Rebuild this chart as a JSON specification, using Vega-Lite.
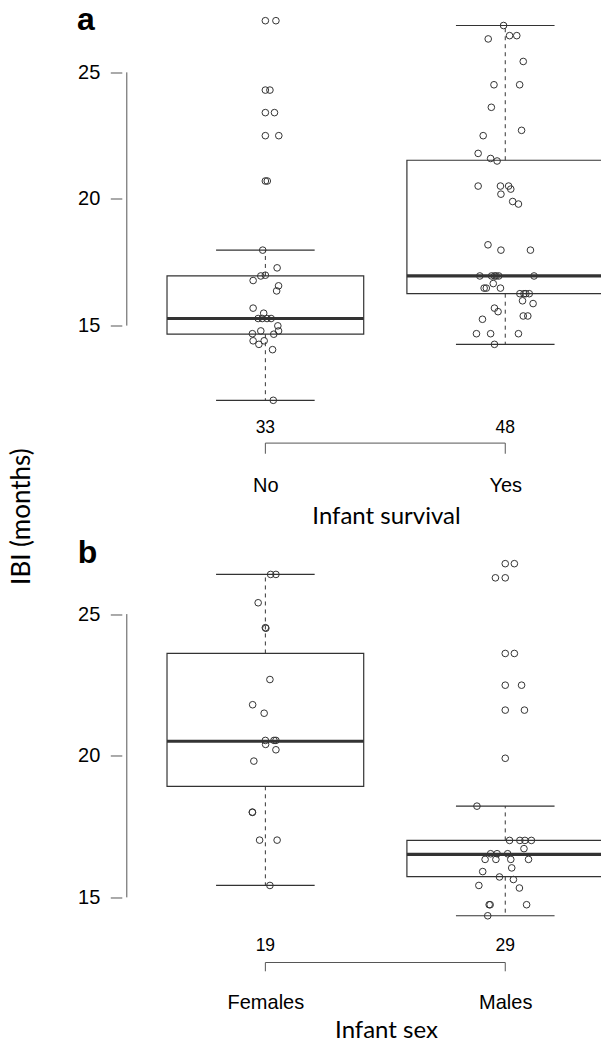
{
  "$schema": "https://vega.github.io/schema/vega-lite/v6.json",
  "padding": {"left": 7.8, "top": 3.5, "right": 0, "bottom": 0},
  "background": "white",
  "bounds": "flush",
  "spacing": 134,
  "config": {
    "view": {"stroke": null},
    "font": "Liberation Sans",
    "axis": {"grid": false, "labelColor": "black", "titleColor": "black", "titleFontWeight": "normal"}
  },
  "datasets": {
    "points_a": [
      {"group":"No","jx":1.000,"ibi":27.04},{"group":"No","jx":1.044,"ibi":27.04},{"group":"No","jx":1.000,"ibi":24.30},{"group":"No","jx":1.019,"ibi":24.30},
      {"group":"No","jx":1.000,"ibi":23.41},{"group":"No","jx":1.038,"ibi":23.41},{"group":"No","jx":1.000,"ibi":22.50},{"group":"No","jx":1.056,"ibi":22.50},
      {"group":"No","jx":1.000,"ibi":20.71},{"group":"No","jx":1.008,"ibi":20.71},{"group":"No","jx":0.989,"ibi":17.98},{"group":"No","jx":1.049,"ibi":17.28},
      {"group":"No","jx":0.981,"ibi":16.96},{"group":"No","jx":1.000,"ibi":16.99},{"group":"No","jx":0.949,"ibi":16.78},{"group":"No","jx":1.055,"ibi":16.57},
      {"group":"No","jx":1.047,"ibi":16.37},{"group":"No","jx":0.949,"ibi":15.69},{"group":"No","jx":0.993,"ibi":15.49},{"group":"No","jx":0.970,"ibi":15.28},
      {"group":"No","jx":0.987,"ibi":15.28},{"group":"No","jx":1.007,"ibi":15.28},{"group":"No","jx":1.024,"ibi":15.28},{"group":"No","jx":1.052,"ibi":14.99},
      {"group":"No","jx":0.981,"ibi":14.79},{"group":"No","jx":1.055,"ibi":14.79},{"group":"No","jx":0.946,"ibi":14.68},{"group":"No","jx":1.035,"ibi":14.66},
      {"group":"No","jx":0.949,"ibi":14.40},{"group":"No","jx":0.995,"ibi":14.40},{"group":"No","jx":0.973,"ibi":14.26},{"group":"No","jx":1.030,"ibi":14.05},
      {"group":"No","jx":1.033,"ibi":12.05},
      {"group":"Yes","jx":1.993,"ibi":26.85},{"group":"Yes","jx":1.929,"ibi":26.32},{"group":"Yes","jx":2.018,"ibi":26.45},{"group":"Yes","jx":2.048,"ibi":26.45},
      {"group":"Yes","jx":2.075,"ibi":25.43},{"group":"Yes","jx":1.953,"ibi":24.51},{"group":"Yes","jx":2.060,"ibi":24.51},{"group":"Yes","jx":1.942,"ibi":23.62},
      {"group":"Yes","jx":2.068,"ibi":22.71},{"group":"Yes","jx":1.908,"ibi":22.50},{"group":"Yes","jx":1.887,"ibi":21.80},{"group":"Yes","jx":1.939,"ibi":21.60},
      {"group":"Yes","jx":1.966,"ibi":21.50},{"group":"Yes","jx":1.887,"ibi":20.51},{"group":"Yes","jx":1.980,"ibi":20.51},{"group":"Yes","jx":2.014,"ibi":20.51},
      {"group":"Yes","jx":2.023,"ibi":20.39},{"group":"Yes","jx":1.982,"ibi":20.19},{"group":"Yes","jx":2.031,"ibi":19.90},{"group":"Yes","jx":2.055,"ibi":19.80},
      {"group":"Yes","jx":1.928,"ibi":18.19},{"group":"Yes","jx":1.982,"ibi":17.98},{"group":"Yes","jx":2.105,"ibi":17.98},{"group":"Yes","jx":1.894,"ibi":16.96},
      {"group":"Yes","jx":1.943,"ibi":16.96},{"group":"Yes","jx":1.955,"ibi":16.96},{"group":"Yes","jx":1.962,"ibi":16.96},{"group":"Yes","jx":1.973,"ibi":16.96},
      {"group":"Yes","jx":2.120,"ibi":16.96},{"group":"Yes","jx":1.950,"ibi":16.66},{"group":"Yes","jx":1.912,"ibi":16.48},{"group":"Yes","jx":1.921,"ibi":16.48},
      {"group":"Yes","jx":1.980,"ibi":16.48},{"group":"Yes","jx":2.061,"ibi":16.26},{"group":"Yes","jx":2.078,"ibi":16.26},{"group":"Yes","jx":2.086,"ibi":16.26},
      {"group":"Yes","jx":2.100,"ibi":16.26},{"group":"Yes","jx":2.072,"ibi":15.98},{"group":"Yes","jx":2.116,"ibi":15.87},{"group":"Yes","jx":1.955,"ibi":15.69},
      {"group":"Yes","jx":1.970,"ibi":15.55},{"group":"Yes","jx":1.905,"ibi":15.25},{"group":"Yes","jx":2.075,"ibi":15.38},{"group":"Yes","jx":2.094,"ibi":15.38},
      {"group":"Yes","jx":1.880,"ibi":14.68},{"group":"Yes","jx":1.939,"ibi":14.68},{"group":"Yes","jx":2.055,"ibi":14.68},{"group":"Yes","jx":1.955,"ibi":14.26}
    ],
    "box_a": [
      {"group":"No","pos":1,"lo":12.05,"q1":14.66,"median":15.28,"q3":16.96,"hi":17.98,"n":"33"},
      {"group":"Yes","pos":2,"lo":14.26,"q1":16.26,"median":16.96,"q3":21.53,"hi":26.85,"n":"48"}
    ],
    "points_b": [
      {"group":"Females","jx":1.022,"ibi":26.40},{"group":"Females","jx":1.044,"ibi":26.40},{"group":"Females","jx":0.970,"ibi":25.40},{"group":"Females","jx":1.000,"ibi":24.52},
      {"group":"Females","jx":1.002,"ibi":24.50},{"group":"Females","jx":1.019,"ibi":22.69},{"group":"Females","jx":0.947,"ibi":21.80},{"group":"Females","jx":0.995,"ibi":21.50},
      {"group":"Females","jx":1.000,"ibi":20.54},{"group":"Females","jx":1.036,"ibi":20.54},{"group":"Females","jx":1.044,"ibi":20.54},{"group":"Females","jx":1.001,"ibi":20.40},
      {"group":"Females","jx":1.044,"ibi":20.21},{"group":"Females","jx":0.952,"ibi":19.81},{"group":"Females","jx":0.946,"ibi":18.01},{"group":"Females","jx":0.946,"ibi":18.00},
      {"group":"Females","jx":0.976,"ibi":17.02},{"group":"Females","jx":1.049,"ibi":17.02},{"group":"Females","jx":1.019,"ibi":15.42},
      {"group":"Males","jx":2.000,"ibi":26.78},{"group":"Males","jx":2.038,"ibi":26.78},{"group":"Males","jx":1.959,"ibi":26.28},{"group":"Males","jx":2.000,"ibi":26.28},
      {"group":"Males","jx":2.000,"ibi":23.61},{"group":"Males","jx":2.038,"ibi":23.61},{"group":"Males","jx":2.000,"ibi":22.49},{"group":"Males","jx":2.068,"ibi":22.49},
      {"group":"Males","jx":2.000,"ibi":21.61},{"group":"Males","jx":2.080,"ibi":21.61},{"group":"Males","jx":2.000,"ibi":19.91},{"group":"Males","jx":1.882,"ibi":18.22},
      {"group":"Males","jx":2.018,"ibi":17.01},{"group":"Males","jx":2.061,"ibi":17.01},{"group":"Males","jx":2.082,"ibi":17.01},{"group":"Males","jx":2.109,"ibi":17.01},
      {"group":"Males","jx":2.078,"ibi":16.72},{"group":"Males","jx":1.939,"ibi":16.54},{"group":"Males","jx":1.966,"ibi":16.54},{"group":"Males","jx":2.010,"ibi":16.54},
      {"group":"Males","jx":1.916,"ibi":16.34},{"group":"Males","jx":1.961,"ibi":16.34},{"group":"Males","jx":2.023,"ibi":16.34},{"group":"Males","jx":2.097,"ibi":16.34},
      {"group":"Males","jx":2.027,"ibi":16.04},{"group":"Males","jx":1.906,"ibi":15.91},{"group":"Males","jx":1.976,"ibi":15.72},{"group":"Males","jx":2.034,"ibi":15.63},
      {"group":"Males","jx":1.890,"ibi":15.42},{"group":"Males","jx":2.059,"ibi":15.33},{"group":"Males","jx":1.933,"ibi":14.74},{"group":"Males","jx":1.937,"ibi":14.74},
      {"group":"Males","jx":2.089,"ibi":14.74},{"group":"Males","jx":1.927,"ibi":14.35}
    ],
    "box_b": [
      {"group":"Females","pos":1,"lo":15.42,"q1":18.92,"median":20.51,"q3":23.61,"hi":26.40,"n":"19"},
      {"group":"Males","pos":2,"lo":14.35,"q1":15.73,"median":16.52,"q3":17.01,"hi":18.22,"n":"29"}
    ],
    "axis_span": [{"from": 15, "to": 25}],
    "panel_a": [{"panel": "a"}],
    "panel_b": [{"panel": "b"}]
  },
  "vconcat": [
    {
      "width": 480,
      "height": 410,
      "layer": [
        {
          "data": {"name": "box_a"},
          "mark": {"type": "bar", "width": 196.7, "fill": "white", "stroke": "#333", "strokeWidth": 1.2, "clip": true},
          "encoding": {
            "x": {"field": "pos", "type": "quantitative", "scale": {"domain": [0.4224, 2.3816], "nice": false, "zero": false},
              "axis": {"values": [1, 2], "labelExpr": "datum.value == 1 ? 'No' : 'Yes'", "domain": false, "ticks": false, "tickSize": 0,
                "labelPadding": 75.5, "labelBaseline": "alphabetic", "labelFont": "Liberation Sans", "labelFontSize": 20,
                "title": "Infant survival", "titleFont": "Lato", "titleFontSize": 24, "titleX": 264.2, "titleY": 107.5, "titleAlign": "center", "titleBaseline": "alphabetic"}},
            "y": {"field": "q1", "type": "quantitative", "scale": {"domain": [11.45, 27.64], "nice": false, "zero": false},
              "axis": {"values": [15, 20, 25], "domain": false, "ticks": true, "tickSize": 11.5, "tickColor": "#555", "tickWidth": 1,
                "labelPadding": 10.5, "labelFont": "Liberation Sans", "labelFontSize": 20, "labelBaseline": "middle",
                "title": "IBI (months)", "titleFont": "Lato", "titleFontSize": 26, "titleX": -100.7, "titleY": 510.6, "titleAngle": -90, "titleAlign": "center", "titleBaseline": "middle"}},
            "y2": {"field": "q3"}
          }
        },
        {
          "data": {"name": "box_a"},
          "mark": {"type": "rule", "stroke": "#333", "strokeWidth": 1, "strokeDash": [4, 4]},
          "encoding": {
            "x": {"field": "pos", "type": "quantitative", "scale": {"domain": [0.4224, 2.3816], "nice": false, "zero": false}},
            "y": {"field": "q3", "type": "quantitative", "scale": {"domain": [11.45, 27.64], "nice": false, "zero": false}},
            "y2": {"field": "hi"}
          }
        },
        {
          "data": {"name": "box_a"},
          "mark": {"type": "rule", "stroke": "#333", "strokeWidth": 1, "strokeDash": [4, 4]},
          "encoding": {
            "x": {"field": "pos", "type": "quantitative", "scale": {"domain": [0.4224, 2.3816], "nice": false, "zero": false}},
            "y": {"field": "q1", "type": "quantitative", "scale": {"domain": [11.45, 27.64], "nice": false, "zero": false}},
            "y2": {"field": "lo"}
          }
        },
        {
          "data": {"name": "box_a"},
          "mark": {"type": "tick", "orient": "horizontal", "size": 98.6, "thickness": 1.2, "color": "#333", "opacity": 1},
          "encoding": {
            "x": {"field": "pos", "type": "quantitative", "scale": {"domain": [0.4224, 2.3816], "nice": false, "zero": false}},
            "y": {"field": "hi", "type": "quantitative", "scale": {"domain": [11.45, 27.64], "nice": false, "zero": false}}
          }
        },
        {
          "data": {"name": "box_a"},
          "mark": {"type": "tick", "orient": "horizontal", "size": 98.6, "thickness": 1.2, "color": "#333", "opacity": 1},
          "encoding": {
            "x": {"field": "pos", "type": "quantitative", "scale": {"domain": [0.4224, 2.3816], "nice": false, "zero": false}},
            "y": {"field": "lo", "type": "quantitative", "scale": {"domain": [11.45, 27.64], "nice": false, "zero": false}}
          }
        },
        {
          "data": {"name": "box_a"},
          "mark": {"type": "tick", "orient": "horizontal", "size": 196.7, "thickness": 3.2, "color": "#333", "opacity": 1, "clip": true},
          "encoding": {
            "x": {"field": "pos", "type": "quantitative", "scale": {"domain": [0.4224, 2.3816], "nice": false, "zero": false}},
            "y": {"field": "median", "type": "quantitative", "scale": {"domain": [11.45, 27.64], "nice": false, "zero": false}}
          }
        },
        {
          "data": {"name": "points_a"},
          "mark": {"type": "point", "shape": "circle", "filled": false, "size": 44, "stroke": "#333", "strokeWidth": 1, "opacity": 1},
          "encoding": {
            "x": {"field": "jx", "type": "quantitative", "scale": {"domain": [0.4224, 2.3816], "nice": false, "zero": false}},
            "y": {"field": "ibi", "type": "quantitative", "scale": {"domain": [11.45, 27.64], "nice": false, "zero": false}}
          }
        },
        {
          "data": {"name": "axis_span"},
          "mark": {"type": "rule", "stroke": "#555", "strokeWidth": 1},
          "encoding": {
            "x": {"datum": 0.4224, "type": "quantitative", "scale": {"domain": [0.4224, 2.3816], "nice": false, "zero": false}},
            "y": {"field": "from", "type": "quantitative", "scale": {"domain": [11.45, 27.64], "nice": false, "zero": false}},
            "y2": {"field": "to"}
          }
        },
        {
          "data": {"name": "box_a"},
          "mark": {"type": "rule", "stroke": "#555", "strokeWidth": 1},
          "encoding": {
            "x": {"field": "pos", "type": "quantitative", "scale": {"domain": [0.4224, 2.3816], "nice": false, "zero": false}},
            "y": {"datum": 10.36, "type": "quantitative", "scale": {"domain": [11.45, 27.64], "nice": false, "zero": false}},
            "y2": {"datum": 9.94}
          }
        },
        {
          "data": {"name": "box_a"},
          "mark": {"type": "rule", "stroke": "#555", "strokeWidth": 1},
          "encoding": {
            "x": {"aggregate": "min", "field": "pos", "type": "quantitative", "scale": {"domain": [0.4224, 2.3816], "nice": false, "zero": false}},
            "x2": {"aggregate": "max", "field": "pos"},
            "y": {"datum": 10.36, "type": "quantitative", "scale": {"domain": [11.45, 27.64], "nice": false, "zero": false}}
          }
        },
        {
          "data": {"name": "box_a"},
          "mark": {"type": "text", "font": "Liberation Sans", "fontSize": 17.5, "color": "black", "align": "center", "baseline": "alphabetic"},
          "encoding": {
            "x": {"field": "pos", "type": "quantitative", "scale": {"domain": [0.4224, 2.3816], "nice": false, "zero": false}},
            "y": {"datum": 10.77, "type": "quantitative", "scale": {"domain": [11.45, 27.64], "nice": false, "zero": false}},
            "text": {"field": "n"}
          }
        },
        {
          "data": {"name": "panel_a"},
          "mark": {"type": "text", "font": "Liberation Sans", "fontSize": 32, "fontWeight": "bold", "color": "black", "align": "left", "baseline": "alphabetic"},
          "encoding": {
            "x": {"datum": 0.2145, "type": "quantitative", "scale": {"domain": [0.4224, 2.3816], "nice": false, "zero": false}},
            "y": {"datum": 26.668, "type": "quantitative", "scale": {"domain": [11.45, 27.64], "nice": false, "zero": false}},
            "text": {"field": "panel"}
          }
        }
      ]
    },
    {
      "width": 480,
      "height": 381,
      "layer": [
        {
          "data": {"name": "box_b"},
          "mark": {"type": "bar", "width": 196.7, "fill": "white", "stroke": "#333", "strokeWidth": 1.2, "clip": true},
          "encoding": {
            "x": {"field": "pos", "type": "quantitative", "scale": {"domain": [0.4224, 2.3816], "nice": false, "zero": false},
              "axis": {"values": [1, 2], "labelExpr": "datum.value == 1 ? 'Females' : 'Males'", "domain": false, "ticks": false, "tickSize": 0,
                "labelPadding": 77.6, "labelBaseline": "alphabetic", "labelFont": "Liberation Sans", "labelFontSize": 20,
                "title": "Infant sex", "titleFont": "Lato", "titleFontSize": 24, "titleX": 264.2, "titleY": 106.8, "titleAlign": "center", "titleBaseline": "alphabetic"}},
            "y": {"field": "q1", "type": "quantitative", "scale": {"domain": [13.83, 27.28], "nice": false, "zero": false},
              "axis": {"values": [15, 20, 25], "domain": false, "ticks": true, "tickSize": 11.5, "tickColor": "#555", "tickWidth": 1,
                "labelPadding": 10.5, "labelFont": "Liberation Sans", "labelFontSize": 20, "labelBaseline": "middle", "title": null}},
            "y2": {"field": "q3"}
          }
        },
        {
          "data": {"name": "box_b"},
          "mark": {"type": "rule", "stroke": "#333", "strokeWidth": 1, "strokeDash": [4, 4]},
          "encoding": {
            "x": {"field": "pos", "type": "quantitative", "scale": {"domain": [0.4224, 2.3816], "nice": false, "zero": false}},
            "y": {"field": "q3", "type": "quantitative", "scale": {"domain": [13.83, 27.28], "nice": false, "zero": false}},
            "y2": {"field": "hi"}
          }
        },
        {
          "data": {"name": "box_b"},
          "mark": {"type": "rule", "stroke": "#333", "strokeWidth": 1, "strokeDash": [4, 4]},
          "encoding": {
            "x": {"field": "pos", "type": "quantitative", "scale": {"domain": [0.4224, 2.3816], "nice": false, "zero": false}},
            "y": {"field": "q1", "type": "quantitative", "scale": {"domain": [13.83, 27.28], "nice": false, "zero": false}},
            "y2": {"field": "lo"}
          }
        },
        {
          "data": {"name": "box_b"},
          "mark": {"type": "tick", "orient": "horizontal", "size": 98.6, "thickness": 1.2, "color": "#333", "opacity": 1},
          "encoding": {
            "x": {"field": "pos", "type": "quantitative", "scale": {"domain": [0.4224, 2.3816], "nice": false, "zero": false}},
            "y": {"field": "hi", "type": "quantitative", "scale": {"domain": [13.83, 27.28], "nice": false, "zero": false}}
          }
        },
        {
          "data": {"name": "box_b"},
          "mark": {"type": "tick", "orient": "horizontal", "size": 98.6, "thickness": 1.2, "color": "#333", "opacity": 1},
          "encoding": {
            "x": {"field": "pos", "type": "quantitative", "scale": {"domain": [0.4224, 2.3816], "nice": false, "zero": false}},
            "y": {"field": "lo", "type": "quantitative", "scale": {"domain": [13.83, 27.28], "nice": false, "zero": false}}
          }
        },
        {
          "data": {"name": "box_b"},
          "mark": {"type": "tick", "orient": "horizontal", "size": 196.7, "thickness": 3.2, "color": "#333", "opacity": 1, "clip": true},
          "encoding": {
            "x": {"field": "pos", "type": "quantitative", "scale": {"domain": [0.4224, 2.3816], "nice": false, "zero": false}},
            "y": {"field": "median", "type": "quantitative", "scale": {"domain": [13.83, 27.28], "nice": false, "zero": false}}
          }
        },
        {
          "data": {"name": "points_b"},
          "mark": {"type": "point", "shape": "circle", "filled": false, "size": 44, "stroke": "#333", "strokeWidth": 1, "opacity": 1},
          "encoding": {
            "x": {"field": "jx", "type": "quantitative", "scale": {"domain": [0.4224, 2.3816], "nice": false, "zero": false}},
            "y": {"field": "ibi", "type": "quantitative", "scale": {"domain": [13.83, 27.28], "nice": false, "zero": false}}
          }
        },
        {
          "data": {"name": "axis_span"},
          "mark": {"type": "rule", "stroke": "#555", "strokeWidth": 1},
          "encoding": {
            "x": {"datum": 0.4224, "type": "quantitative", "scale": {"domain": [0.4224, 2.3816], "nice": false, "zero": false}},
            "y": {"field": "from", "type": "quantitative", "scale": {"domain": [13.83, 27.28], "nice": false, "zero": false}},
            "y2": {"field": "to"}
          }
        },
        {
          "data": {"name": "box_b"},
          "mark": {"type": "rule", "stroke": "#555", "strokeWidth": 1},
          "encoding": {
            "x": {"field": "pos", "type": "quantitative", "scale": {"domain": [0.4224, 2.3816], "nice": false, "zero": false}},
            "y": {"datum": 12.70, "type": "quantitative", "scale": {"domain": [13.83, 27.28], "nice": false, "zero": false}},
            "y2": {"datum": 12.39}
          }
        },
        {
          "data": {"name": "box_b"},
          "mark": {"type": "rule", "stroke": "#555", "strokeWidth": 1},
          "encoding": {
            "x": {"aggregate": "min", "field": "pos", "type": "quantitative", "scale": {"domain": [0.4224, 2.3816], "nice": false, "zero": false}},
            "x2": {"aggregate": "max", "field": "pos"},
            "y": {"datum": 12.70, "type": "quantitative", "scale": {"domain": [13.83, 27.28], "nice": false, "zero": false}}
          }
        },
        {
          "data": {"name": "box_b"},
          "mark": {"type": "text", "font": "Liberation Sans", "fontSize": 17.5, "color": "black", "align": "center", "baseline": "alphabetic"},
          "encoding": {
            "x": {"field": "pos", "type": "quantitative", "scale": {"domain": [0.4224, 2.3816], "nice": false, "zero": false}},
            "y": {"datum": 13.09, "type": "quantitative", "scale": {"domain": [13.83, 27.28], "nice": false, "zero": false}},
            "text": {"field": "n"}
          }
        },
        {
          "data": {"name": "panel_b"},
          "mark": {"type": "text", "font": "Liberation Sans", "fontSize": 32, "fontWeight": "bold", "color": "black", "align": "left", "baseline": "alphabetic"},
          "encoding": {
            "x": {"datum": 0.2175, "type": "quantitative", "scale": {"domain": [0.4224, 2.3816], "nice": false, "zero": false}},
            "y": {"datum": 26.81, "type": "quantitative", "scale": {"domain": [13.83, 27.28], "nice": false, "zero": false}},
            "text": {"field": "panel"}
          }
        }
      ]
    }
  ]
}
